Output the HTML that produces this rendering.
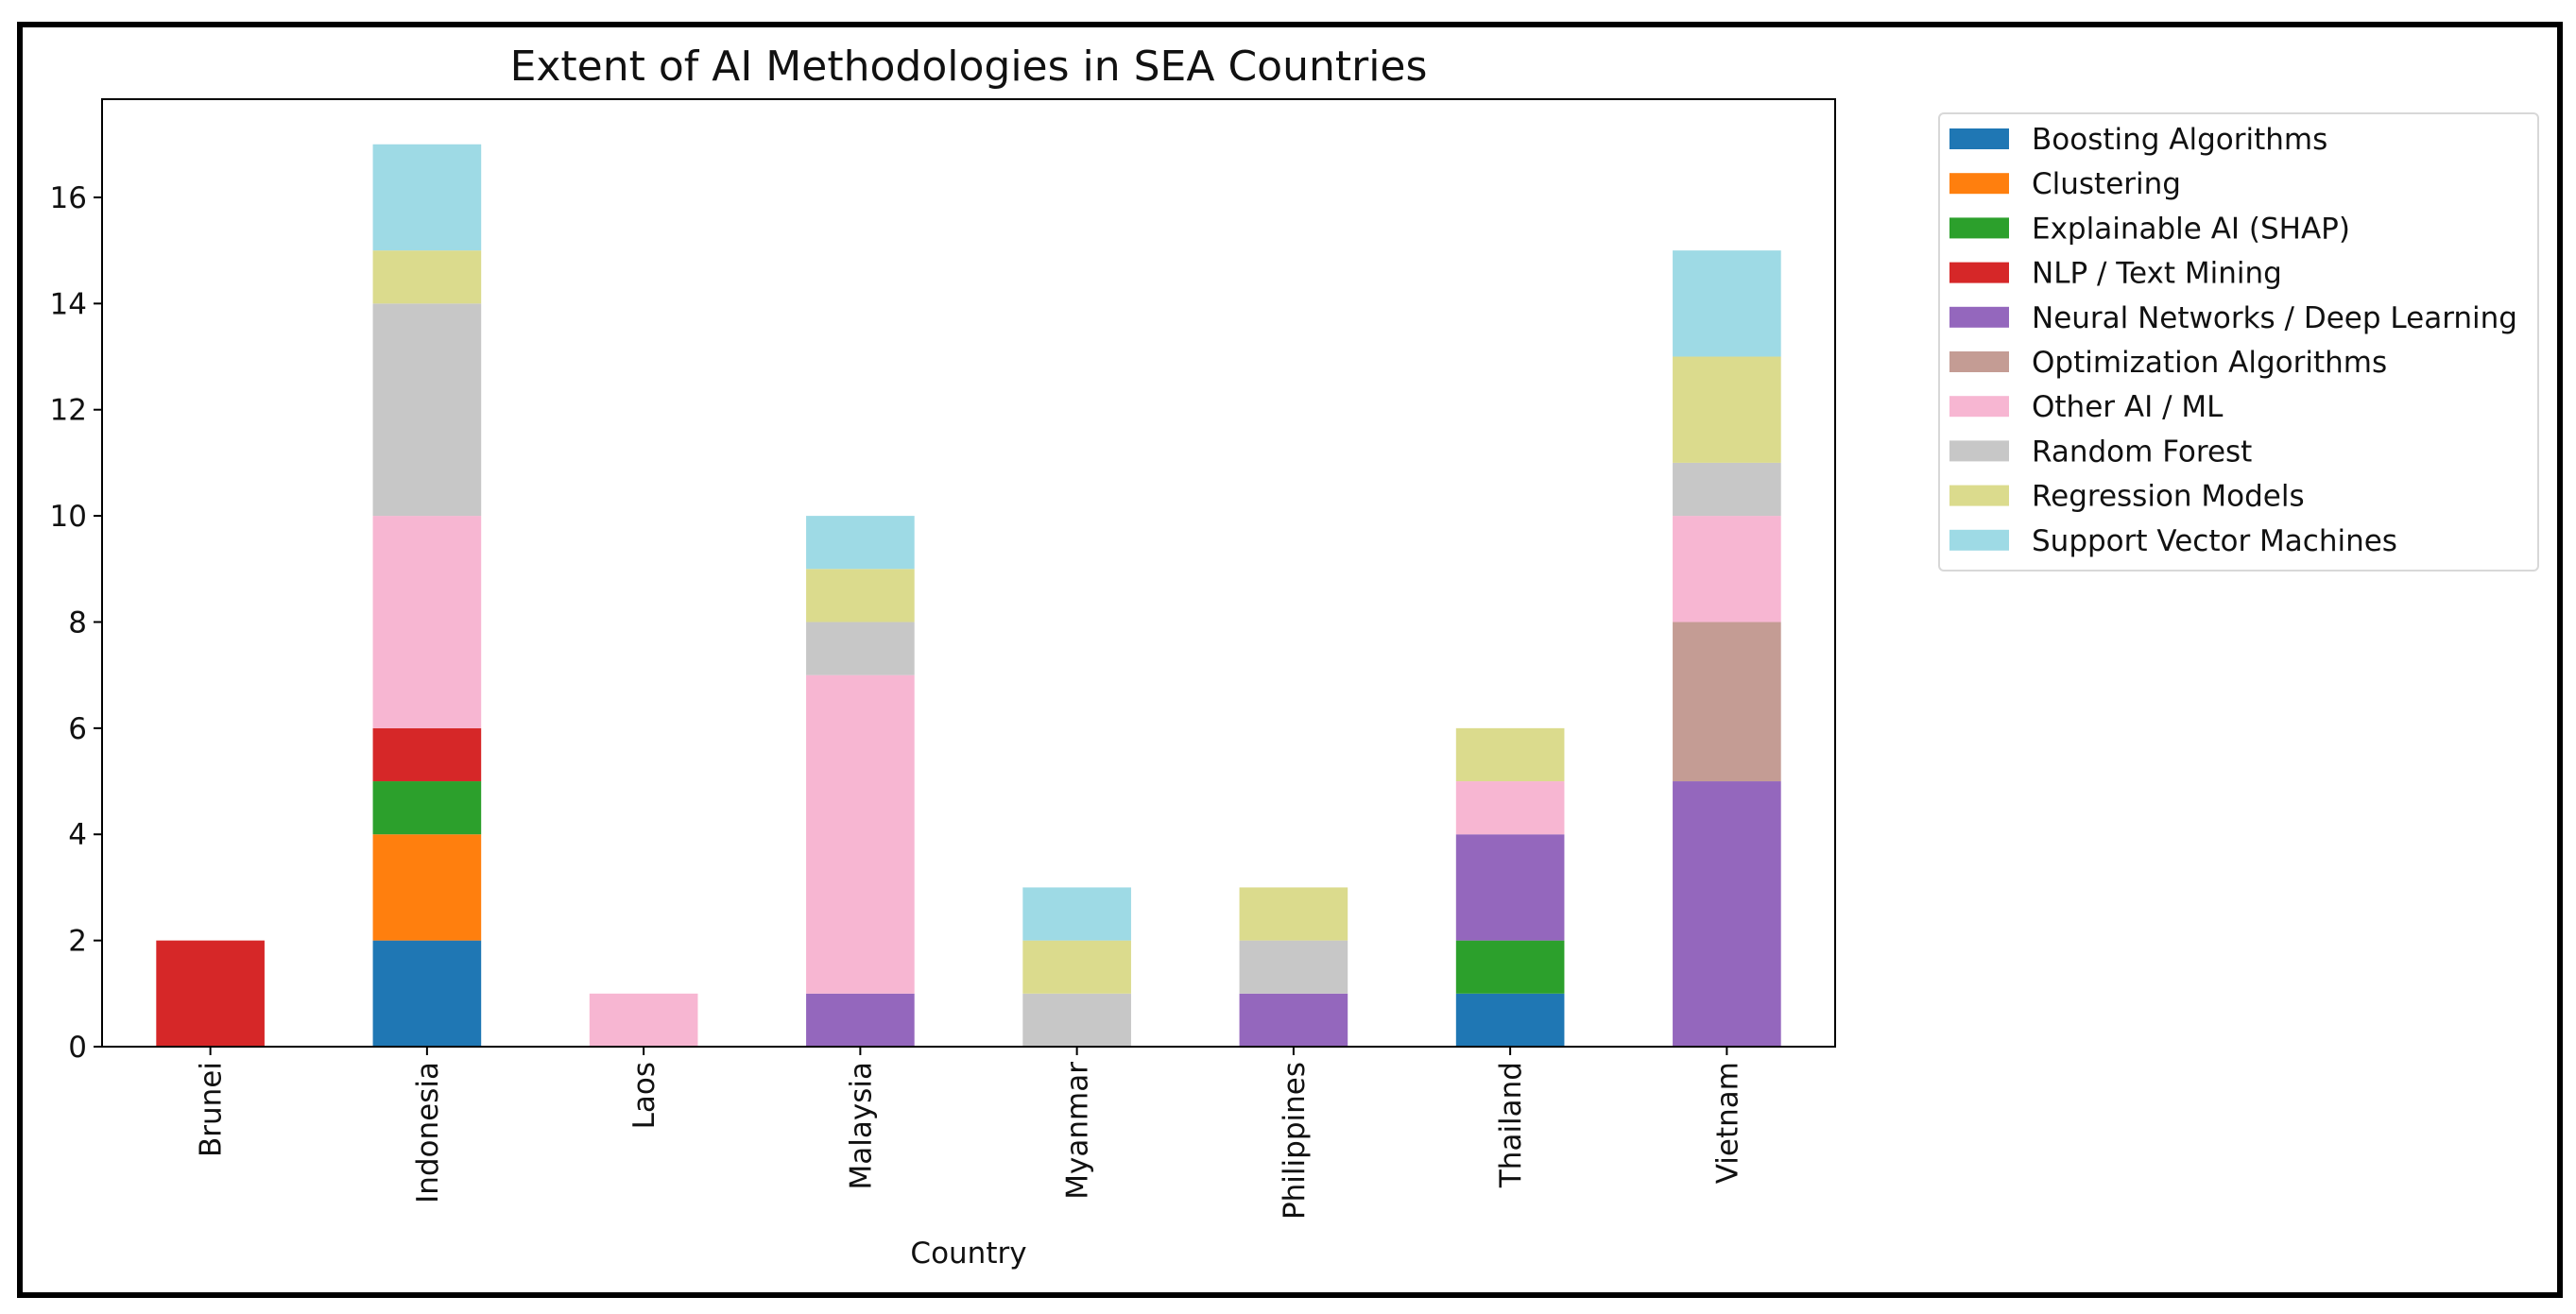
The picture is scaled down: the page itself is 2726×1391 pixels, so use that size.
<!DOCTYPE html>
<html><head><meta charset="utf-8"><style>
html,body{margin:0;padding:0;background:#fff;}
svg{display:block;font-family:"DejaVu Sans","Liberation Sans",sans-serif;}
</style></head><body>
<svg id="chart" width="2726" height="1391" viewBox="0 0 2726 1391" xmlns="http://www.w3.org/2000/svg">
<rect x="0" y="0" width="2726" height="1391" fill="#fff"/>
<rect x="21" y="26" width="2688" height="1345" fill="none" stroke="#000" stroke-width="6"/>
<text x="1025" y="85" font-size="44" text-anchor="middle" fill="#111">Extent of AI Methodologies in SEA Countries</text>
<g id="bars"></g>
<rect x="108" y="105" width="1834" height="1003" fill="none" stroke="#000" stroke-width="2"/>
<g id="yaxis"></g>
<g id="xaxis"></g>
<text x="1025" y="1337" font-size="31" text-anchor="middle" fill="#111">Country</text>
<g id="legend"></g>
</svg>
<script>
const countries = ["Brunei","Indonesia","Laos","Malaysia","Myanmar","Philippines","Thailand","Vietnam"];
const seriesNames = ["Boosting Algorithms","Clustering","Explainable AI (SHAP)","NLP / Text Mining","Neural Networks / Deep Learning","Optimization Algorithms","Other AI / ML","Random Forest","Regression Models","Support Vector Machines"];
const seriesColors = ["#1f77b4","#ff7f0e","#2ca02c","#d62728","#9467bd","#c49c94","#f7b6d2","#c7c7c7","#dbdb8d","#9edae5"];
const boosting = [0,2,0,0,0,0,1,0];
const clustering = [0,2,0,0,0,0,0,0];
const explainable = [0,1,0,0,0,0,1,0];
const nlp = [2,1,0,0,0,0,0,0];
const neural = [0,0,0,1,0,1,2,5];
const optimization = [0,0,0,0,0,0,0,3];
const otherAI = [0,4,1,6,0,0,1,2];
const randomForest = [0,4,0,1,1,1,0,1];
const regression = [0,1,0,1,1,1,1,2];
const svm = [0,2,0,1,1,0,0,2];
const yTicks = [0,2,4,6,8,10,12,14,16];
const seriesValues = [boosting,clustering,explainable,nlp,neural,optimization,otherAI,randomForest,regression,svm];

const NS = "http://www.w3.org/2000/svg";
const plotL = 108, plotR = 1942, plotT = 105, plotB = 1108;
let maxTotal = 0;
countries.forEach((c,i)=>{let t=0;seriesValues.forEach(s=>t+=s[i]);if(t>maxTotal)maxTotal=t;});
const yMax = maxTotal*1.05;
const yScale = v => plotB - v*(plotB-plotT)/yMax;
const band = (plotR-plotL)/countries.length;
const xCenter = i => plotL + (i+0.5)*band;
const barW = band*0.5;
function mk(tag, attrs, parent){const e=document.createElementNS(NS,tag);for(const k in attrs)e.setAttribute(k,attrs[k]);parent.appendChild(e);return e;}

const gBars = document.getElementById("bars");
countries.forEach((c,i)=>{
  let base = 0;
  seriesValues.forEach((s,k)=>{
    const v = s[i];
    if(v>0){
      const r = mk("rect",{x:xCenter(i)-barW/2,y:yScale(base+v),width:barW,height:yScale(base)-yScale(base+v),fill:seriesColors[k]},gBars);
      
      
    }
    base += v;
  });
});

const gY = document.getElementById("yaxis");
yTicks.forEach(t=>{
  const y = yScale(t);
  const l = mk("line",{x1:plotL-9,x2:plotL,y1:y,y2:y,stroke:"#000","stroke-width":2},gY);
  
  
  const tx = mk("text",{x:plotL-16,y:y+11,"font-size":31,"text-anchor":"end",fill:"#111"},gY);
  tx.textContent = t;
  
  
});

const gX = document.getElementById("xaxis");
countries.forEach((c,i)=>{
  const x = xCenter(i);
  const l = mk("line",{x1:x,x2:x,y1:plotB,y2:plotB+9,stroke:"#000","stroke-width":2},gX);
  
  
  const tx = mk("text",{x:0,y:0,"font-size":31,"text-anchor":"end",fill:"#111",transform:`translate(${x+11},${plotB+16}) rotate(-90)`},gX);
  tx.textContent = c;
  
  
});

const gL = document.getElementById("legend");
const lb = mk("rect",{x:2052,y:120,width:634,height:484,rx:5,fill:"#fff",stroke:"#d8d8d8","stroke-width":2},gL);


seriesNames.forEach((n,k)=>{
  const cy = 147 + k*47.2;
  const p = mk("rect",{x:2063,y:cy-11,width:63,height:22,fill:seriesColors[k]},gL);
  
  
  const tx = mk("text",{x:2150,y:cy+11,"font-size":31,fill:"#111"},gL);
  tx.textContent = n;
  
  
});
</script>
</body></html>
